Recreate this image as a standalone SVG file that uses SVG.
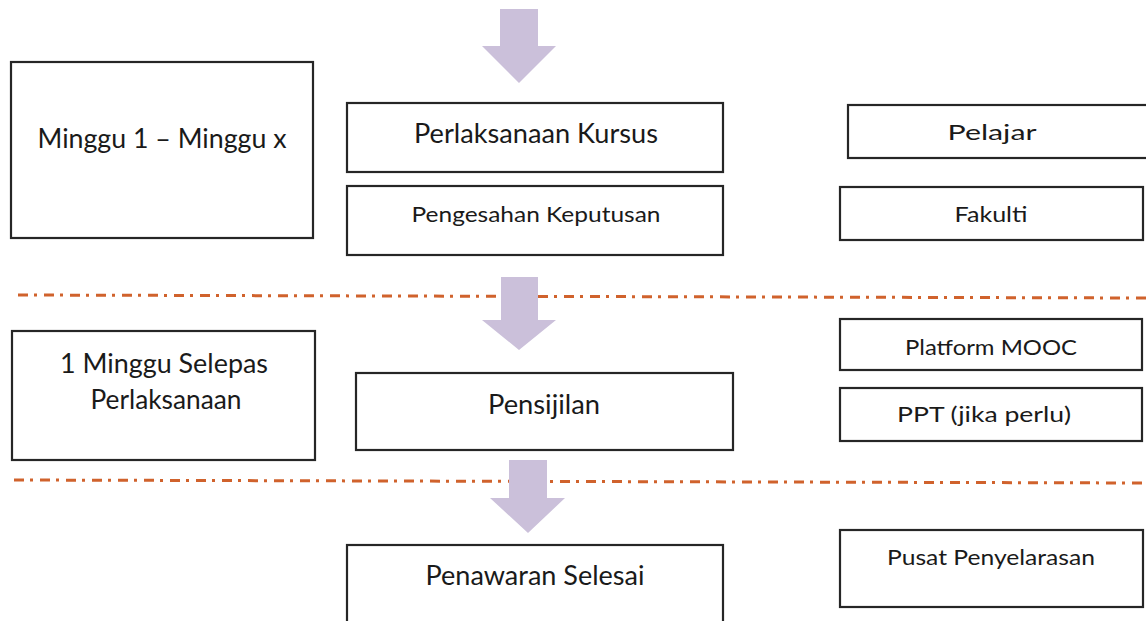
<svg xmlns="http://www.w3.org/2000/svg" width="1146" height="621" viewBox="0 0 1146 621">
<style>
.box{fill:#fff;stroke:#262626;stroke-width:2.2}
.t{font-family:Lato,"Open Sans",sans-serif;fill:#1a1a1a;text-anchor:middle}
.l{font-size:26px}
.s{font-size:22px}
.arrow{fill:#cbc0da}
.dash{stroke:#d0622c;stroke-width:3;fill:none;stroke-dasharray:10 6 3 7}
</style>
<g id="connectors">
<polygon class="arrow" points="500,9 538,9 538,46 556,46 519,83 482,46 500,46"/>
<line class="dash" x1="18" y1="295" x2="1146" y2="298"/>
<polygon class="arrow" points="501,277 538,277 538,320 556,320 519,350 482,320 501,320"/>
<line class="dash" x1="14" y1="480" x2="1146" y2="483"/>
<polygon class="arrow" points="509,460 547,460 547,498 565,498 528,533 490,498 509,498"/>
</g>
<g id="n1"><rect class="box" x="11" y="62" width="302" height="176"/><text class="t l" x="162" y="148" textLength="249" lengthAdjust="spacingAndGlyphs">Minggu 1 – Minggu x</text></g>
<g id="n2"><rect class="box" x="347" y="103" width="376" height="69"/><text class="t l" x="536" y="143" textLength="244" lengthAdjust="spacingAndGlyphs">Perlaksanaan Kursus</text></g>
<g id="n3"><rect class="box" x="347" y="186" width="376" height="69"/><text class="t s" x="536" y="222" textLength="249" lengthAdjust="spacingAndGlyphs">Pengesahan Keputusan</text></g>
<g id="n4"><rect class="box" x="848" y="105" width="300" height="53"/><text class="t s" x="992" y="140" textLength="89" lengthAdjust="spacingAndGlyphs">Pelajar</text></g>
<g id="n5"><rect class="box" x="840" y="187" width="303" height="53"/><text class="t s" x="991" y="222" textLength="73" lengthAdjust="spacingAndGlyphs">Fakulti</text></g>
<g id="n6"><rect class="box" x="12" y="331" width="303" height="129"/><text class="t l" x="164" y="373" textLength="208" lengthAdjust="spacingAndGlyphs">1 Minggu Selepas</text><text class="t l" x="166" y="409" textLength="151" lengthAdjust="spacingAndGlyphs">Perlaksanaan</text></g>
<g id="n7"><rect class="box" x="356" y="373" width="377" height="77"/><text class="t l" x="544" y="414" textLength="112" lengthAdjust="spacingAndGlyphs">Pensijilan</text></g>
<g id="n8"><rect class="box" x="840" y="319" width="302" height="51"/><text class="t s" x="991" y="355" textLength="172" lengthAdjust="spacingAndGlyphs">Platform MOOC</text></g>
<g id="n9"><rect class="box" x="840" y="388" width="302" height="53"/><text class="t s" x="984" y="422" textLength="174" lengthAdjust="spacingAndGlyphs">PPT (jika perlu)</text></g>
<g id="n10"><rect class="box" x="347" y="545" width="376" height="80"/><text class="t l" x="535" y="585" textLength="219" lengthAdjust="spacingAndGlyphs">Penawaran Selesai</text></g>
<g id="n11"><rect class="box" x="840" y="530" width="303" height="77"/><text class="t s" x="991" y="565" textLength="208" lengthAdjust="spacingAndGlyphs">Pusat Penyelarasan</text></g>
</svg>
